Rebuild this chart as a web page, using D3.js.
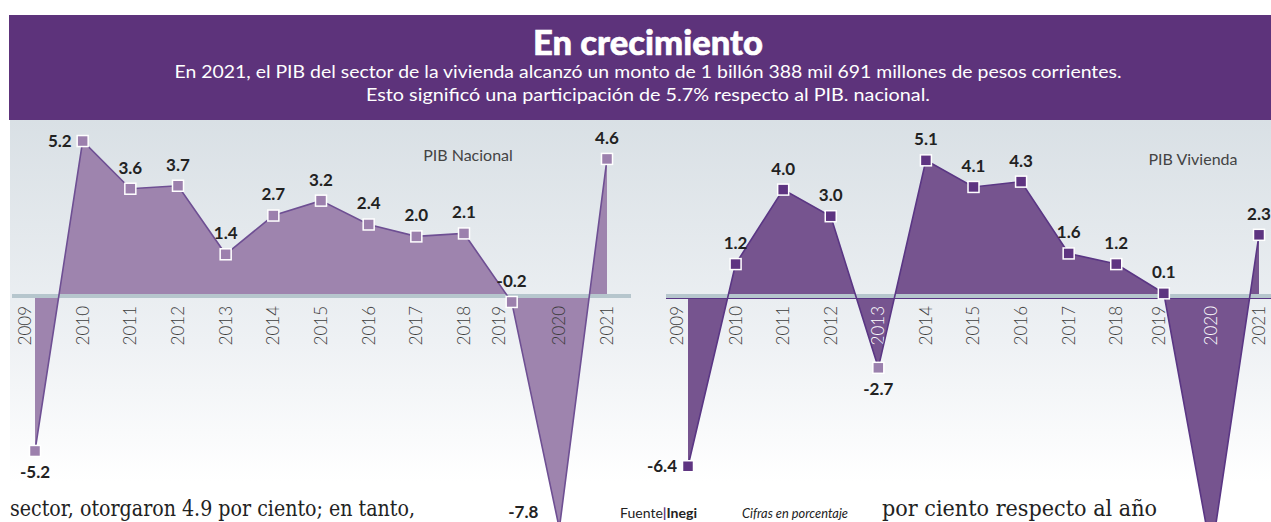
<!DOCTYPE html>
<html lang="es">
<head>
<meta charset="UTF-8">
<title>En crecimiento</title>
<script src="https://d3js.org/d3.v7.min.js"></script>
<style>
  body { margin: 0; background: #fff; }
  svg { display: block; font-family: Lato, "Open Sans", sans-serif; }
</style>
</head>
<body>
<div id="chart"></div>
<script>
// datos: variación anual en porcentaje
const years = ["2009", "2010", "2011", "2012", "2013", "2014", "2015", "2016", "2017", "2018", "2019", "2020", "2021"];
const pibNacional = [-5.2, 5.2, 3.6, 3.7, 1.4, 2.7, 3.2, 2.4, 2.0, 2.1, -0.2, -7.8, 4.6];
const pibVivienda = [-6.4, 1.2, 4.0, 3.0, -2.7, 5.1, 4.1, 4.3, 1.6, 1.2, 0.1, -9.7, 2.3];
const titulo = "En crecimiento";
const subtitulo = [
  "En 2021, el PIB del sector de la vivienda alcanzó un monto de 1 billón 388 mil 691 millones de pesos corrientes.",
  "Esto significó una participación de 5.7% respecto al PIB. nacional."
];

const W = 1271, H = 522;
const BASE = 296;

const svg = d3.select("#chart").append("svg")
  .attr("width", W)
  .attr("height", H);

// fondo degradado
const defs = svg.append("defs");
const grad = defs.append("linearGradient").attr("id", "bg")
  .attr("x1", 0).attr("y1", 0).attr("x2", 0).attr("y2", 1);
grad.append("stop").attr("offset", "0%").attr("stop-color", "#d9e0e5");
grad.append("stop").attr("offset", "55%").attr("stop-color", "#eef1f4");
grad.append("stop").attr("offset", "90%").attr("stop-color", "#ffffff");
svg.append("rect")
  .attr("x", 10).attr("y", 120)
  .attr("width", W - 10).attr("height", H - 120)
  .attr("fill", "url(#bg)");

// encabezado
svg.append("rect")
  .attr("x", 9).attr("y", 15)
  .attr("width", W - 9).attr("height", 105)
  .attr("fill", "#5d337b");

svg.append("text")
  .attr("x", 648).attr("y", 55)
  .attr("text-anchor", "middle")
  .attr("fill", "#fff")
  .attr("font-size", 35)
  .attr("font-weight", 900)
  .attr("stroke", "#fff")
  .attr("stroke-width", 0.6)
  .attr("textLength", 230)
  .attr("lengthAdjust", "spacingAndGlyphs")
  .text(titulo);

svg.selectAll(".sub")
  .data(subtitulo)
  .enter().append("text")
  .attr("class", "sub")
  .attr("x", 648)
  .attr("y", (d, i) => 78 + i * 23)
  .attr("text-anchor", "middle")
  .attr("fill", "#fff")
  .attr("font-size", 18)
  .attr("textLength", (d, i) => i === 0 ? 947 : 564)
  .attr("lengthAdjust", "spacingAndGlyphs")
  .text(d => d);

// texto del artículo que asoma abajo
svg.append("text")
  .attr("x", 10).attr("y", 516)
  .attr("font-family", "'DejaVu Serif', serif")
  .attr("font-size", 22)
  .attr("fill", "#222")
  .attr("textLength", 405)
  .attr("lengthAdjust", "spacingAndGlyphs")
  .text("sector, otorgaron 4.9 por ciento; en tanto,");
svg.append("text")
  .attr("x", 882).attr("y", 516)
  .attr("font-family", "'DejaVu Serif', serif")
  .attr("font-size", 22)
  .attr("fill", "#222")
  .attr("textLength", 275)
  .attr("lengthAdjust", "spacingAndGlyphs")
  .text("por ciento respecto al año");

// fuente
const fuente = svg.append("text")
  .attr("x", 620).attr("y", 518)
  .attr("font-size", 13)
  .attr("fill", "#222")
  .attr("textLength", 77)
  .attr("lengthAdjust", "spacingAndGlyphs");
fuente.append("tspan").text("Fuente");
fuente.append("tspan").attr("fill", "#5d337b").attr("font-weight", "bold").text("|");
fuente.append("tspan").attr("font-weight", "bold").text("Inegi");

svg.append("text")
  .attr("x", 742).attr("y", 518)
  .attr("font-size", 13)
  .attr("font-style", "italic")
  .attr("fill", "#222")
  .attr("textLength", 106)
  .attr("lengthAdjust", "spacingAndGlyphs")
  .text("Cifras en porcentaje");

// configuración de cada gráfica
const charts = [
  {
    values: pibNacional, name: "PIB Nacional",
    xr: [35, 607], unit: 29.8, axis: [12, 631],
    fill: "#9e84ae", stroke: "#6e4f93", marker: "#9c80ad",
    nameX: 468, nameY: 155, inside: "#3a3a3a",
    labelShift: { "2009": -10, "2019": -13 },
    place: { "2010": "left", "2020": "lowLeft" },
    markerColor: {}, underline: false
  },
  {
    values: pibVivienda, name: "PIB Vivienda",
    xr: [688, 1259], unit: 26.6, axis: [666, 1271],
    fill: "#76548f", stroke: "#5a3684", marker: "#5e3481",
    nameX: 1193, nameY: 159, inside: "#ffffff",
    labelShift: { "2009": -11, "2019": -5 },
    place: { "2009": "left" },
    markerColor: { "2013": "#9a80ad" }, underline: true
  }
];

charts.forEach(c => {
  const data = years.map((yr, i) => ({ year: yr, v: c.values[i], i }));

  const x = d3.scalePoint().domain(years).range(c.xr);
  const y = d3.scaleLinear()
    .domain([-10, 6])
    .range([BASE + 10 * c.unit, BASE - 6 * c.unit]);

  const g = svg.append("g");

  // área
  const area = d3.area()
    .x(d => x(d.year))
    .y0(y(0))
    .y1(d => y(d.v));
  g.append("path")
    .datum(data)
    .attr("d", area)
    .attr("fill", c.fill);

  // etiquetas de años
  g.selectAll(".yr")
    .data(data)
    .enter().append("text")
    .attr("class", "yr")
    .attr("transform", d => `translate(${x(d.year) + (c.labelShift[d.year] || 0)},${BASE + 10}) rotate(-90)`)
    .attr("text-anchor", "end")
    .attr("dy", "0.35em")
    .attr("font-size", 17)
    .attr("font-weight", 300)
    .attr("fill", d => (d.v < -1 && d.i > 0) ? c.inside : "#3d3d3d")
    .text(d => d.year);

  // línea base
  if (c.underline) {
    g.append("line")
      .attr("x1", c.axis[0]).attr("x2", c.axis[1])
      .attr("y1", y(0) + 2.5).attr("y2", y(0) + 2.5)
      .attr("stroke", c.stroke)
      .attr("stroke-width", 1);
  }
  g.append("line")
    .attr("x1", c.axis[0]).attr("x2", c.axis[1])
    .attr("y1", y(0)).attr("y2", y(0))
    .attr("stroke", "#b6c6cd")
    .attr("stroke-width", 4);

  // línea
  const line = d3.line()
    .x(d => x(d.year))
    .y(d => y(d.v));
  g.append("path")
    .datum(data)
    .attr("d", line)
    .attr("fill", "none")
    .attr("stroke", c.stroke)
    .attr("stroke-width", 1.6);

  // marcadores
  g.selectAll(".mk")
    .data(data)
    .enter().append("rect")
    .attr("class", "mk")
    .attr("x", d => x(d.year) - 5.5)
    .attr("y", d => y(d.v) - 5.5)
    .attr("width", 11)
    .attr("height", 11)
    .attr("fill", d => c.markerColor[d.year] || c.marker)
    .attr("stroke", "#fff")
    .attr("stroke-width", 1.5);

  // valores (solo los que caen dentro del lienzo)
  const labelPos = d => {
    const p = c.place[d.year];
    if (p === "left") return { x: x(d.year) - 11, y: y(d.v), a: "end" };
    if (p === "lowLeft") return { x: x(d.year) - 21, y: y(d.v) - 16, a: "end" };
    if (d.v < -1) return { x: x(d.year), y: y(d.v) + 21, a: "middle" };
    return { x: x(d.year), y: y(d.v) - 21, a: "middle" };
  };
  g.selectAll(".val")
    .data(data.filter(d => labelPos(d).y < H - 6))
    .enter().append("text")
    .attr("class", "val")
    .attr("x", d => labelPos(d).x)
    .attr("y", d => labelPos(d).y)
    .attr("dy", "0.35em")
    .attr("text-anchor", d => labelPos(d).a)
    .attr("font-size", 17)
    .attr("font-weight", "bold")
    .attr("fill", "#222")
    .text(d => d.v.toFixed(1));

  // nombre de la serie
  g.append("text")
    .attr("x", c.nameX).attr("y", c.nameY)
    .attr("dy", "0.35em")
    .attr("text-anchor", "middle")
    .attr("font-size", 16)
    .attr("fill", "#444")
    .text(c.name);
});
</script>
</body>
</html>
